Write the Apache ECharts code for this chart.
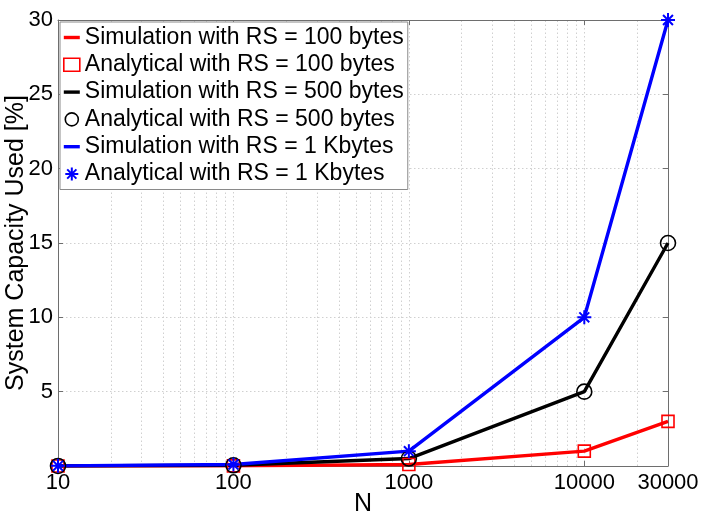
<!DOCTYPE html>
<html><head><meta charset="utf-8">
<script src="https://cdn.jsdelivr.net/npm/echarts@6/dist/echarts.min.js"></script>
<style>html,body{margin:0;padding:0;background:#fff}#c{width:706px;height:516px}</style>
</head><body><div id="c"></div>
<script>
const N = [10, 100, 1000, 10000, 30000];
const xTickLabels = [10, 100, 1000, 10000, 30000];
const xMinorGrid = [20,30,40,50,60,70,80,90,200,300,400,500,600,700,800,900,2000,3000,4000,5000,6000,7000,8000,9000,20000];
const sim100 = [0.001, 0.01, 0.1, 1.0, 3.0];
const ana100 = [0.001, 0.01, 0.1, 1.0, 3.0];
const sim500 = [0.005, 0.05, 0.5, 5.0, 15.0];
const ana500 = [0.005, 0.05, 0.5, 5.0, 15.0];
const sim1k = [0.01, 0.1, 1.0, 10.0, 30.0];
const ana1k = [0.01, 0.1, 1.0, 10.0, 30.0];
const names = [
  'Simulation with RS = 100 bytes',
  'Analytical with RS = 100 bytes',
  'Simulation with RS = 500 bytes',
  'Analytical with RS = 500 bytes',
  'Simulation with RS = 1 Kbytes',
  'Analytical with RS = 1 Kbytes'
];

const pair = arr => N.map((x, i) => [x, arr[i]]);
const FONT = 'Liberation Sans';
const AX = '#6e6e6e';
const GRID = '#d0d0d0';
const STAR = 'path://M10,0L10,20M0,10L20,10M2.93,2.93L17.07,17.07M2.93,17.07L17.07,2.93';
const LINEICON = 'path://M0,0H16V3.4H0Z';

const chart = echarts.init(document.getElementById('c'), null, {renderer: 'canvas'});

function lineSeries(name, data, color, withMinor) {
  const s = {
    name, type: 'line', data: pair(data), symbol: 'none',
    lineStyle: {color, width: 3.4}, itemStyle: {color},
    z: 2, animation: false
  };
  if (withMinor) {
    s.markLine = {
      silent: true, symbol: 'none', animation: false,
      label: {show: false},
      lineStyle: {color: GRID, type: [1.5, 2.5], width: 1},
      data: xMinorGrid.map(v => ({xAxis: v})),
      z: 0
    };
  }
  return s;
}
function markSeries(name, data, color, symbol, size) {
  return {
    name, type: 'line', data: pair(data), symbol, symbolSize: size,
    showSymbol: true,
    lineStyle: {width: 0, opacity: 0},
    itemStyle: {color: 'rgba(0,0,0,0)', borderColor: color, borderWidth: symbol === STAR ? 2 : 1.6},
    z: 3, animation: false
  };
}

const xBase = {
  type: 'log', logBase: 10, min: 10, max: 30000,
  axisLine: {show: true, onZero: false, lineStyle: {color: AX, width: 1}},
  axisTick: {show: true, inside: true, length: 5, lineStyle: {color: AX}, customValues: xTickLabels},
  minorTick: {show: false}
};
const yBase = {
  type: 'value', min: 0, max: 30, interval: 5,
  axisLine: {show: true, onZero: false, lineStyle: {color: AX, width: 1}},
  axisTick: {show: true, inside: true, length: 5, lineStyle: {color: AX}}
};

chart.setOption({
  animation: false,
  backgroundColor: '#fff',
  textStyle: {fontFamily: FONT},
  grid: {left: 58, right: 38, top: 20, bottom: 50, containLabel: false, outerBoundsMode: 'none'},
  xAxis: [
    Object.assign({}, xBase, {
      position: 'bottom',
      name: 'N', nameLocation: 'middle', nameGap: 26, nameMoveOverlap: false,
      nameTextStyle: {fontSize: 25, color: '#000', fontFamily: FONT},
      axisLabel: {show: true, color: '#000', fontSize: 22, fontFamily: FONT, margin: 6,
        customValues: xTickLabels, formatter: v => String(Math.round(v))},
      splitLine: {show: true, lineStyle: {color: GRID, type: [1.5, 2.5], width: 1}}
    }),
    Object.assign({}, xBase, {
      position: 'top',
      axisLabel: {show: false},
      splitLine: {show: false}
    })
  ],
  yAxis: [
    Object.assign({}, yBase, {
      position: 'left',
      name: 'System Capacity Used [%]', nameLocation: 'middle', nameGap: 29, nameMoveOverlap: false,
      nameTextStyle: {fontSize: 25, color: '#000', fontFamily: FONT},
      axisLabel: {color: '#000', fontSize: 22, fontFamily: FONT, margin: 5,
        formatter: v => v === 0 ? '' : String(v)},
      splitLine: {show: true, lineStyle: {color: GRID, type: [1.5, 2.5], width: 1}}
    }),
    Object.assign({}, yBase, {
      position: 'right',
      axisLabel: {show: false},
      splitLine: {show: false}
    })
  ],
  legend: {
    orient: 'vertical', left: 60, top: 22,
    backgroundColor: '#fff', borderColor: '#8a8a8a', borderWidth: 1,
    padding: [4, 4, 4, 3], itemGap: 4.3, itemWidth: 16, itemHeight: 13, itemTextGap: 4,
    selectedMode: false,
    textStyle: {fontSize: 23, color: '#000', fontFamily: FONT, lineHeight: 22},
    data: [
      {name: names[0], icon: LINEICON, itemStyle: {color: '#ff0000', borderWidth: 0}},
      {name: names[1], icon: 'rect', itemStyle: {color: 'rgba(0,0,0,0)', borderColor: '#ff0000', borderWidth: 1.6}},
      {name: names[2], icon: LINEICON, itemStyle: {color: '#000000', borderWidth: 0}},
      {name: names[3], icon: 'circle', itemStyle: {color: 'rgba(0,0,0,0)', borderColor: '#000000', borderWidth: 1.6}},
      {name: names[4], icon: LINEICON, itemStyle: {color: '#0000ff', borderWidth: 0}},
      {name: names[5], icon: STAR, itemStyle: {color: 'rgba(0,0,0,0)', borderColor: '#0000ff', borderWidth: 2}}
    ]
  },
  series: [
    lineSeries(names[0], sim100, '#ff0000', true),
    markSeries(names[1], ana100, '#ff0000', 'rect', 12),
    lineSeries(names[2], sim500, '#000000', false),
    markSeries(names[3], ana500, '#000000', 'circle', 15),
    lineSeries(names[4], sim1k, '#0000ff', false),
    markSeries(names[5], ana1k, '#0000ff', STAR, 14)
  ]
});
</script>
</body></html>
